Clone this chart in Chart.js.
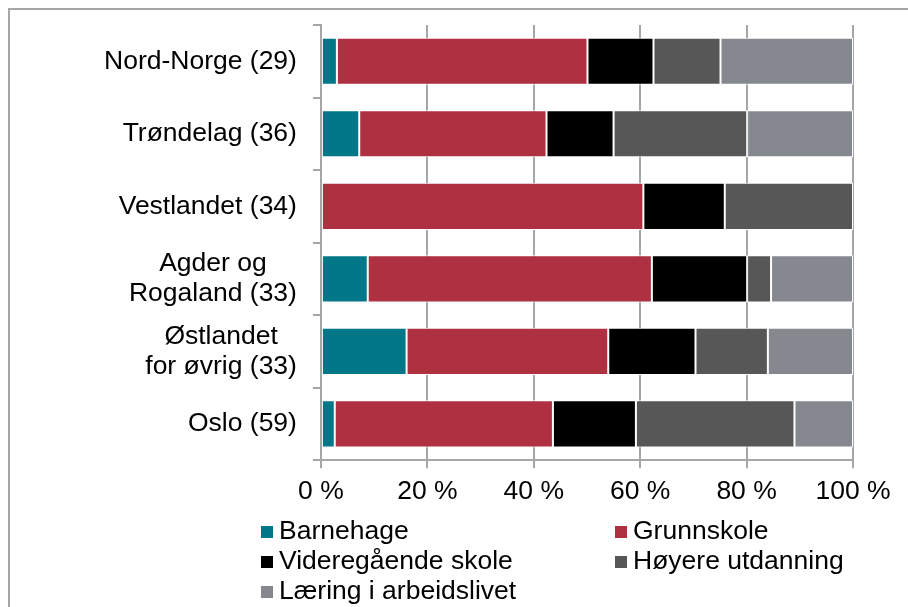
<!DOCTYPE html>
<html>
<head>
<meta charset="utf-8">
<script src="https://cdn.jsdelivr.net/npm/chart.js@4"></script>
<style>
  body{margin:0;background:#fff;font-family:"Liberation Sans",Arial,sans-serif;}
  #frame{position:absolute;left:8px;top:8px;width:950px;height:650px;border-top:2px solid #a6a6a6;border-left:2px solid #a6a6a6;}
  #wrap{position:absolute;left:0;top:0;width:908px;height:607px;}
  #legend{position:absolute;left:261px;top:515px;width:640px;font-size:26.5px;line-height:30px;color:#000;}
  #legend .item{position:absolute;white-space:nowrap;}
  #legend .box{display:inline-block;width:12px;height:12px;margin-right:6px;vertical-align:1px;}
</style>
</head>
<body>
<div id="frame"></div>
<div id="wrap"><canvas id="chart" width="908" height="607"></canvas></div>
<div id="legend"></div>
<script>
const categories=[["Nord-Norge (29)"],["Trøndelag (36)"],["Vestlandet (34)"],["Agder og","Rogaland (33)"],["Østlandet","for øvrig (33)"],["Oslo (59)"]];
const seriesNames=["Barnehage","Grunnskole","Videregående skole","Høyere utdanning","Læring i arbeidslivet"];
const seriesColors=["#027787","#ae3041","#000000","#575757","#85888e"];

const barnehage   =[3.0, 7.2, 0,    8.8, 16.1, 2.6];
const grunnskole  =[47.1,35.2,60.6,53.4,37.9,41.0];
const videregaende=[12.4,12.6,15.3,17.9,16.4,15.6];
const hoyere      =[12.6,25.1,24.1, 4.5,13.6,29.8];
const laering     =[24.9,19.9, 0,  15.4,16.0,11.0];

const xTicks=[0,20,40,60,80,100];

const FONT="'Liberation Sans', Arial, sans-serif";
const FSIZE=26.5;
const gridGray="#a6a6a6";

const values=[barnehage,grunnskole,videregaende,hoyere,laering];
const datasets=seriesNames.map((name,i)=>({
    label:name,
    data:values[i],
    backgroundColor:seriesColors[i],
    borderColor:"#ffffff",
    borderWidth:1,
    borderSkipped:false,
    barPercentage:0.65,
    categoryPercentage:1
}));

// category labels: each line centred, block right-aligned (like Excel)
const centredLabels={
    id:"centredLabels",
    afterDraw(chart){
        const sc=chart.scales.y;
        const ctx=chart.ctx;
        ctx.save();
        ctx.font=FSIZE+"px "+FONT;
        ctx.fillStyle="#000";
        ctx.textAlign="center";
        ctx.textBaseline="middle";
        const right=sc.right-8-16;
        const lh=30;
        sc.ticks.forEach((t,i)=>{
            const lines=categories[i];
            const y=sc.getPixelForTick(i);
            let w=0;
            lines.forEach(l=>{w=Math.max(w,ctx.measureText(l).width);});
            const cx=right-w/2;
            const y0=y-(lines.length-1)*lh/2;
            lines.forEach((l,j)=>ctx.fillText(l,cx,y0+j*lh));
        });
        ctx.restore();
    }
};

new Chart(document.getElementById("chart"),{
    type:"bar",
    data:{labels:categories,datasets:datasets},
    options:{
        indexAxis:"y",
        responsive:false,
        animation:false,
        devicePixelRatio:1,
        layout:{padding:{left:88,top:25,right:55,bottom:91}},
        plugins:{legend:{display:false},tooltip:{enabled:false}},
        scales:{
            x:{
                stacked:true,
                min:0,max:100,
                afterBuildTicks(s){s.ticks=xTicks.map(v=>({value:v}));},
                ticks:{color:"#000",font:{family:FONT,size:FSIZE},padding:8,callback:v=>v+" %"},
                grid:{color:gridGray,lineWidth:2,tickLength:8,drawTicks:true},
                border:{display:true,color:gridGray,width:2}
            },
            y:{
                stacked:true,
                // labels drawn by the plugin above; these only reserve the width
                ticks:{color:"rgba(0,0,0,0)",font:{family:FONT,size:FSIZE,lineHeight:0.3},padding:16},
                grid:{display:true,drawOnChartArea:false,color:gridGray,lineWidth:2,tickLength:8},
                border:{display:true,color:gridGray,width:2}
            }
        }
    },
    plugins:[centredLabels]
});

// legend, two columns like the original
const legend=document.getElementById("legend");
seriesNames.forEach((name,i)=>{
    const d=document.createElement("div");
    d.className="item";
    d.style.left=(i%2?354:0)+"px";
    d.style.top=(Math.floor(i/2)*30)+"px";
    d.innerHTML='<span class="box" style="background:'+seriesColors[i]+'"></span>'+name;
    legend.appendChild(d);
});
</script>
</body>
</html>
